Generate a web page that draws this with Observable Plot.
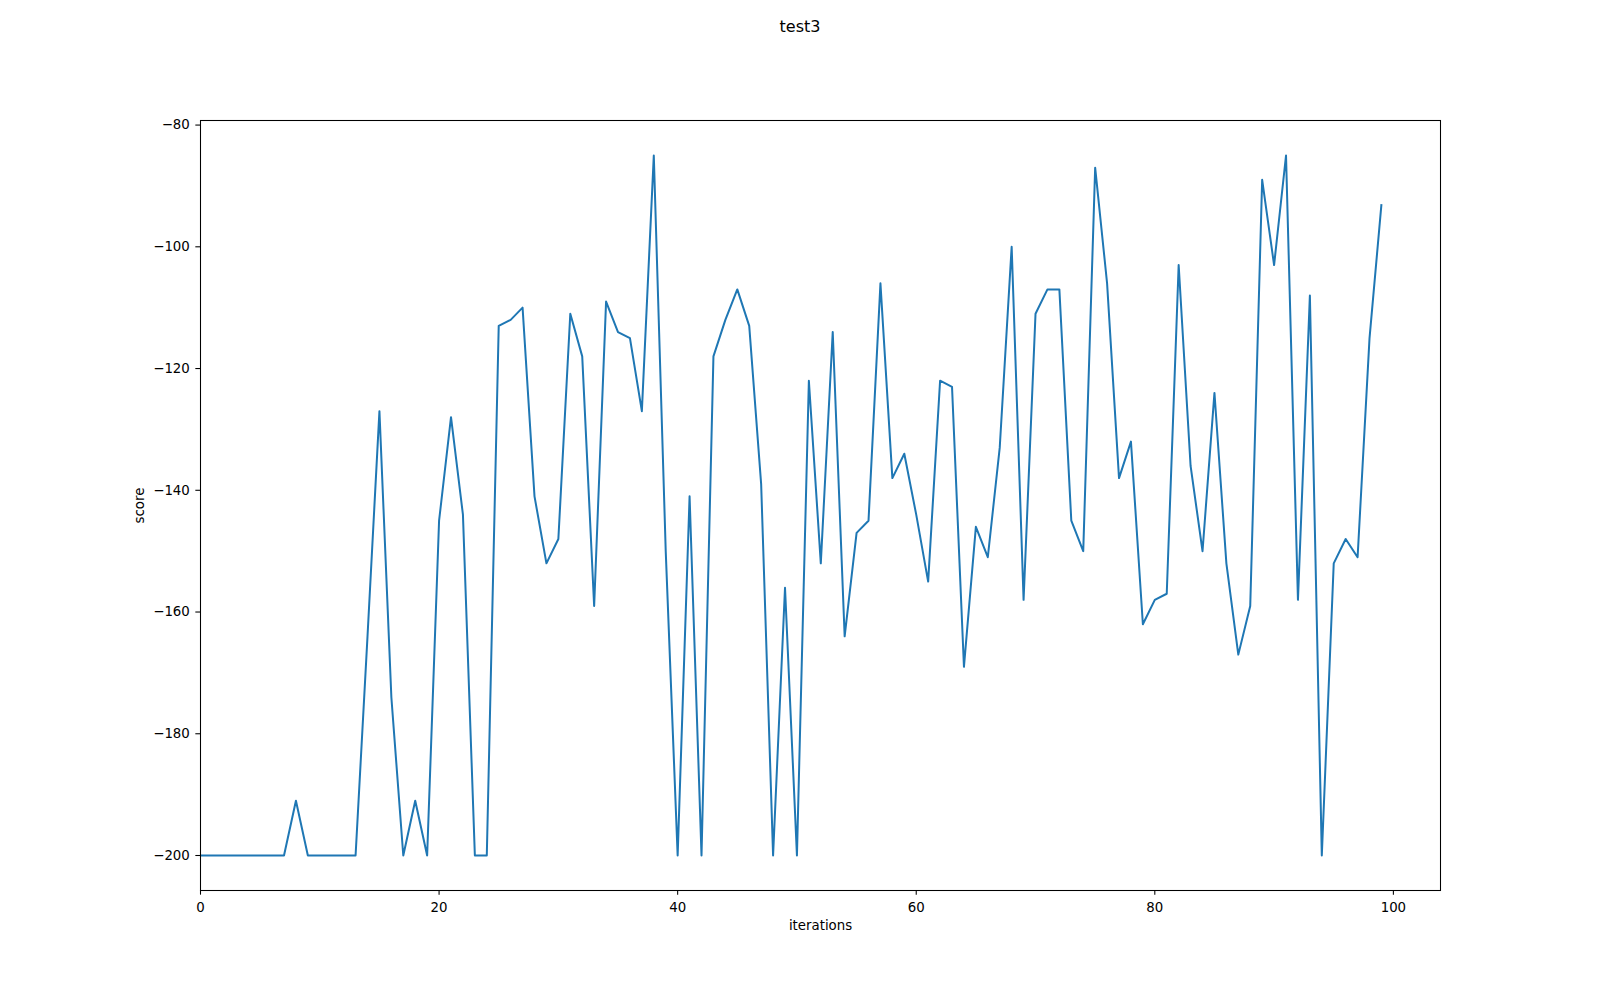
<!DOCTYPE html>
<html>
<head>
<meta charset="utf-8">
<script src="https://cdn.jsdelivr.net/npm/d3@7"></script>
<script src="https://cdn.jsdelivr.net/npm/@observablehq/plot@0.6"></script>
<style>
  html, body { margin: 0; padding: 0; background: #fff; }
  body { font-family: "DejaVu Sans", sans-serif; width: 1600px; }
  #title { width: 1600px; height: 60px; line-height: 54px; text-align: center; font-size: 16px; color: #000; }
</style>
</head>
<body>
<div id="title"></div>
<div id="chart"></div>
<script>
const titleText = "test3";
const xLabel = "iterations";
const yLabel = "score";

const scores = [
  -200, -200, -200, -200, -200, -200, -200, -200, -191, -200,
  -200, -200, -200, -200, -164, -127, -174, -200, -191, -200,
  -145, -128, -144, -200, -200, -113, -112, -110, -141, -152,
  -148, -111, -118, -159, -109, -114, -115, -127, -85, -150,
  -200, -141, -200, -118, -112, -107, -113, -139, -200, -156,
  -200, -122, -152, -114, -164, -147, -145, -106, -138, -134,
  -144, -155, -122, -123, -169, -146, -151, -133, -100, -158,
  -111, -107, -107, -145, -150, -87, -106, -138, -132, -162,
  -158, -157, -103, -136, -150, -124, -152, -167, -159, -89,
  -103, -85, -158, -108, -200, -152, -148, -151, -115, -93
];

const xTicks = [0, 20, 40, 60, 80, 100];
const yTicks = [-200, -180, -160, -140, -120, -100, -80];
const xDomain = [0, 103.95];
const yDomain = [-205.75, -79.25];

document.getElementById("title").textContent = titleText;

const chart = Plot.plot({
  width: 1600,
  height: 940,
  marginTop: 60,
  marginBottom: 110,
  marginLeft: 200,
  marginRight: 160,
  style: {
    fontFamily: "'DejaVu Sans', sans-serif",
    fontSize: "13.33px",
    color: "#000",
    background: "#fff",
    overflow: "visible"
  },
  x: { domain: xDomain },
  y: { domain: yDomain },
  marks: [
    Plot.axisX({ ticks: xTicks, tickSize: 4.67, tickPadding: 7.3, label: null, strokeWidth: 1.07, tickFormat: d3.format("d") }),
    Plot.axisY({ ticks: yTicks, tickSize: 4.67, tickPadding: 6, label: null, strokeWidth: 1.07, tickFormat: d3.format("d") }),
    Plot.lineY(scores, { stroke: "#1f77b4", strokeWidth: 2, strokeLinejoin: "round", strokeLinecap: "butt" }),
    Plot.frame({ stroke: "#000", strokeWidth: 1.07 }),
    Plot.text([xLabel], { text: d => d, frameAnchor: "bottom", dy: 35.5, textAnchor: "middle", lineAnchor: "middle", fill: "#000" }),
    Plot.text([yLabel], { text: d => d, frameAnchor: "left", dx: -60.8, rotate: -90, textAnchor: "middle", lineAnchor: "middle", fill: "#000" })
  ]
});

document.getElementById("chart").appendChild(chart);
</script>
</body>
</html>
